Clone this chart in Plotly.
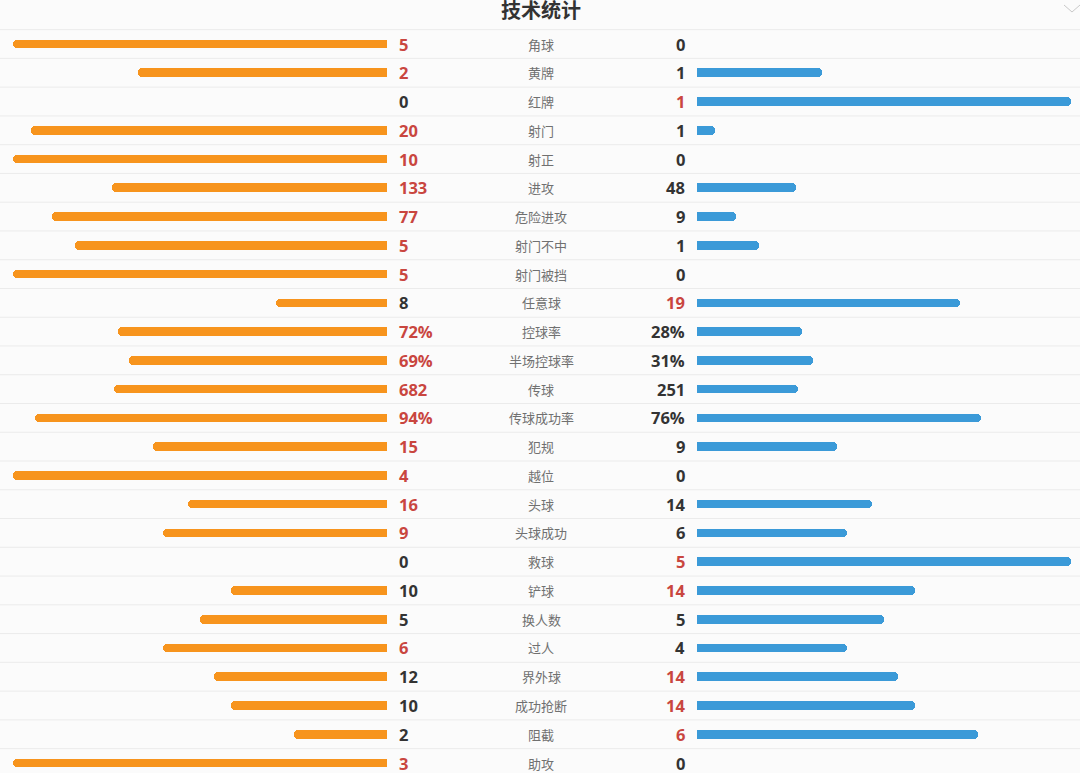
import plotly.graph_objects as go

labels = ["角球", "黄牌", "红牌", "射门", "射正", "进攻", "危险进攻", "射门不中", "射门被挡",
          "任意球", "控球率", "半场控球率", "传球", "传球成功率", "犯规", "越位", "头球",
          "头球成功", "救球", "铲球", "换人数", "过人", "界外球", "成功抢断", "阻截", "助攻"]
home_vals = ["5", "2", "0", "20", "10", "133", "77", "5", "5", "8", "72%", "69%", "682",
             "94%", "15", "4", "16", "9", "0", "10", "5", "6", "12", "10", "2", "3"]
away_vals = ["0", "1", "1", "1", "0", "48", "9", "1", "0", "19", "28%", "31%", "251",
             "76%", "9", "0", "14", "6", "5", "14", "5", "4", "14", "14", "6", "0"]
title = "技术统计"

ORANGE = "#f7941d"
BLUE = "#3b9ad8"
RED = "#c9463f"
DARK = "#333333"


def num(s):
    return float(s.rstrip("%"))


home_share, away_share = [], []
for h, a in zip(home_vals, away_vals):
    if h.endswith("%"):
        home_share.append(num(h) / 100)
        away_share.append(num(a) / 100)
    else:
        t = num(h) + num(a)
        home_share.append(num(h) / t if t else 0)
        away_share.append(num(a) / t if t else 0)

rows = list(range(len(labels)))
W, H = 1080, 773
y0, pitch = 44, 28.76
yr = [(H - y0) / pitch, -y0 / pitch]

fig = go.Figure()
fig.add_trace(go.Bar(y=rows, x=home_share, orientation="h", marker_color=ORANGE,
                     marker_line_width=0, width=0.3, xaxis="x", yaxis="y",
                     hoverinfo="skip"))
fig.add_trace(go.Bar(y=rows, x=away_share, orientation="h", marker_color=BLUE,
                     marker_line_width=0, width=0.3, xaxis="x2", yaxis="y",
                     hoverinfo="skip"))

annotations = []
for i, (lab, h, a) in enumerate(zip(labels, home_vals, away_vals)):
    hv, av = num(h), num(a)
    hc = RED if hv > av else DARK
    ac = RED if av > hv else DARK
    annotations.append(dict(x=397 / W, y=i, xref="paper", yref="y", text=h, showarrow=False,
                            xanchor="left", yanchor="middle",
                            font=dict(family="Open Sans", size=16.5, color=hc, weight="bold")))
    annotations.append(dict(x=687 / W, y=i, xref="paper", yref="y", text=a, showarrow=False,
                            xanchor="right", yanchor="middle",
                            font=dict(family="Open Sans", size=16.5, color=ac, weight="bold")))
    annotations.append(dict(x=541 / W, y=i, xref="paper", yref="y", text=lab, showarrow=False,
                            xanchor="center", yanchor="middle",
                            font=dict(family="Noto Sans CJK SC", size=13, color="#707070")))

annotations.append(dict(x=541 / W, y=1 - 10 / H, xref="paper", yref="paper", text=title,
                        showarrow=False, xanchor="center", yanchor="middle",
                        font=dict(family="Noto Sans CJK SC", size=20, color="#333333",
                                  weight="bold")))

shapes = []
for i in range(-1, len(labels)):
    shapes.append(dict(type="line", xref="paper", yref="y", x0=0, x1=1, y0=i + 0.5, y1=i + 0.5,
                       line=dict(color="#ebebeb", width=1), layer="below"))
# chevron
shapes.append(dict(type="path", xref="paper", yref="paper",
                   path=f"M {1064/W} {1-5/H} L {1072/W} {1-12/H} L {1080/W} {1-5/H}",
                   line=dict(color="#c8c8c8", width=1)))

fig.update_layout(
    width=W, height=H, margin=dict(l=0, r=0, t=0, b=0),
    paper_bgcolor="#fbfbfb", plot_bgcolor="rgba(0,0,0,0)",
    showlegend=False, barcornerradius=4, bargap=0,
    xaxis=dict(domain=[0, 387 / W], range=[387 / 374, 0], visible=False, fixedrange=True),
    xaxis2=dict(domain=[697 / W, 1], range=[0, 383 / 374], visible=False, fixedrange=True,
                anchor="y"),
    yaxis=dict(range=yr, visible=False, fixedrange=True),
    annotations=annotations, shapes=shapes,
)

fig.write_html("out.html", config={"displayModeBar": False},
               post_script="document.body.style.margin='0';document.body.style.overflow='hidden';")
